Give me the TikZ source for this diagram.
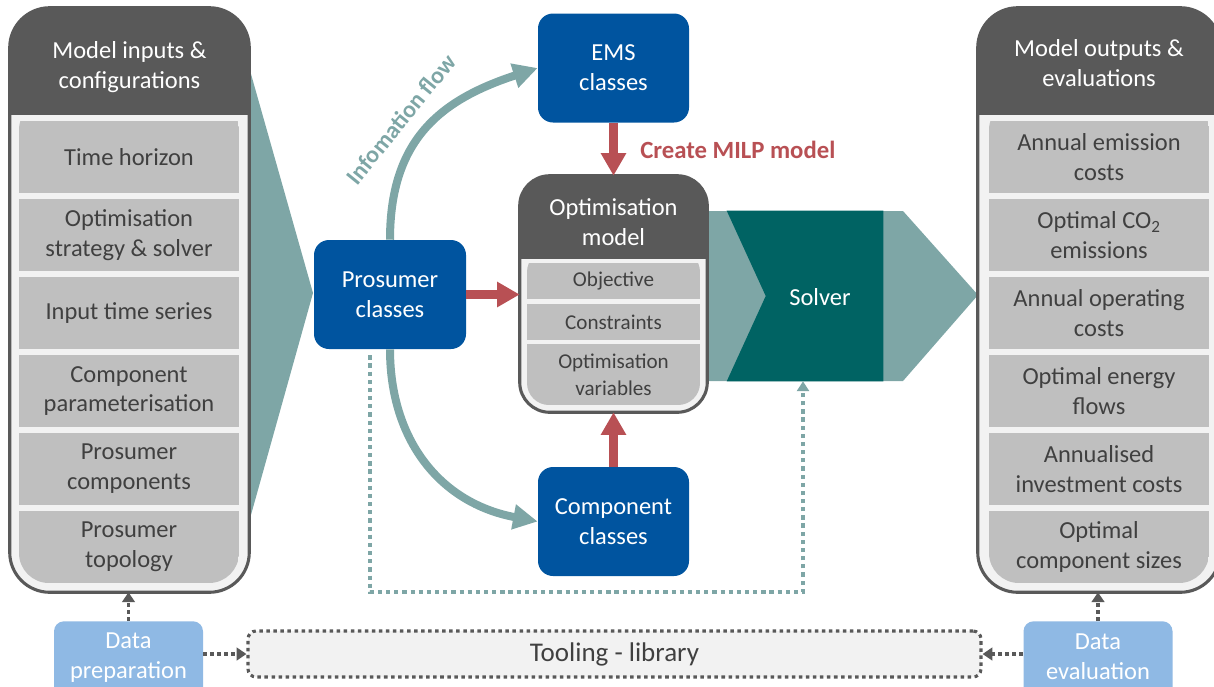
\documentclass[tikz,border=0pt]{standalone}
\usepackage{fontspec}
\setmainfont{Carlito}
\usetikzlibrary{arrows.meta,calc}
\newlength\uu \setlength\uu{0.025cm}
\definecolor{dkgray}{HTML}{595959}
\definecolor{panelbg}{HTML}{F2F2F2}
\definecolor{boxgray}{HTML}{BFBFBF}
\definecolor{txtgray}{HTML}{404040}
\definecolor{clsblue}{HTML}{00549F}
\definecolor{teall}{HTML}{7EA6A6}
\definecolor{teald}{HTML}{006363}
\definecolor{arrred}{HTML}{B85054}
\definecolor{datablue}{HTML}{8FB9E4}
\begin{document}
\begin{tikzpicture}[x=0.025cm,y=-0.025cm,
  mainfs/.style={font=\fontsize{17.4}{21.3}\selectfont},
  ibox/.style={fill=boxgray, text=txtgray, minimum width=220\uu, minimum height=72\uu, inner sep=0pt, align=center, mainfs},
  sbox/.style={fill=boxgray, text=txtgray, minimum width=173\uu, inner sep=0pt, align=center, font=\fontsize{15}{19.2}\selectfont},
  hdr/.style={text=white, align=center, inner sep=0pt, mainfs},
  panel/.style={fill=panelbg, inner sep=0pt},
  bluebox/.style={fill=clsblue, rounded corners=15\uu, minimum width=151\uu, minimum height=109\uu, text=white, align=center, inner sep=0pt, mainfs},
  redarrow/.style={draw=arrred, line width=6.4pt, -{Triangle[width=17pt,length=16pt]}},
  tealarrow/.style={draw=teall, line width=5.7pt, -{Triangle[width=17pt,length=17.5pt]}},
  tealdots/.style={draw=teall, line width=3pt, dash pattern=on 3pt off 2.8pt, -{Triangle[width=8.5pt,length=7pt]}},
  graydots/.style={draw=dkgray, line width=2.8pt, dash pattern=on 2.8pt off 2.2pt, -{Triangle[width=9pt,length=7pt]}},
  databox/.style={fill=datablue, rounded corners=10\uu, minimum width=149\uu, minimum height=100\uu, inner sep=0pt, anchor=north},
  border/.style={draw=dkgray, line width=2.2pt},
]
\useasboundingbox (0,0) rectangle (1214,686);

% teal background shapes
\fill[teall] (249,67) -- (313,293) -- (249,522) -- cycle;
\fill[teall] (690,211) -- (903,211) -- (978,295) -- (903,381) -- (690,381) -- cycle;
\node[minimum width=156\uu, minimum height=170\uu, inner sep=0pt] (solver) at (805,296) {};
\fill[teald] (solver.north west) -- (solver.north east) -- (solver.south east) -- (solver.south west) -- ($(solver.west)+(39,0)$) -- cycle;
\node[hdr] (solvertxt) at (820,297) {Solver};

% left panel
\node[panel, rounded corners=40\uu, minimum width=239\uu, minimum height=584\uu] (inp) at (129.5,300) {};
\begin{scope}
  \clip[rounded corners=40\uu] (inp.north west) rectangle (inp.south east);
  \fill[dkgray] (inp.north west) rectangle (249,115);
\end{scope}
\node[hdr] (inph) at (129.5,67) {Model inputs \&\\configurations};
\begin{scope}
  \clip[rounded corners=30\uu] (19,100) rectangle (239,583);
  \node[ibox] (i1) at (129,157) {Time horizon};
  \node[ibox] (i2) at (129,235) {Optimisation\\strategy \& solver};
  \node[ibox] (i3) at (129,313) {Input time series};
  \node[ibox] (i4) at (129,391) {Component\\parameterisation};
  \node[ibox] (i5) at (129,469) {Prosumer\\components};
  \node[ibox] (i6) at (129,547) {Prosumer\\topology};
\end{scope}
\draw[border, rounded corners=40\uu] (inp.north west) rectangle (inp.south east);

% right panel
\node[panel, rounded corners=40\uu, minimum width=242\uu, minimum height=584\uu] (outp) at (1099,300) {};
\begin{scope}
  \clip[rounded corners=40\uu] (outp.north west) rectangle (outp.south east);
  \fill[dkgray] (outp.north west) rectangle (1220,115);
\end{scope}
\node[hdr] (outph) at (1099,63) {Model outputs \&\\evaluations};
\begin{scope}
  \clip[rounded corners=30\uu] (989,100) rectangle (1209,583);
  \node[ibox] (r1) at (1099,157) {Annual emission\\costs};
  \node[ibox] (r2) at (1099,235) {Optimal CO\textsubscript{2}\\emissions};
  \node[ibox] (r3) at (1099,313) {Annual operating\\costs};
  \node[ibox] (r4) at (1099,391) {Optimal energy\\flows};
  \node[ibox] (r5) at (1099,469) {Annualised\\investment costs};
  \node[ibox] (r6) at (1099,547) {Optimal\\component sizes};
\end{scope}
\draw[border, rounded corners=40\uu] (outp.north west) rectangle (outp.south east);

% optimisation model
\node[panel, rounded corners=30\uu, minimum width=187\uu, minimum height=236\uu] (opt) at (613.5,294) {};
\begin{scope}
  \clip[rounded corners=30\uu] (opt.north west) rectangle (opt.south east);
  \fill[dkgray] (opt.north west) rectangle (707,259);
\end{scope}
\node[hdr] (opth) at (613.5,222) {Optimisation\\model};
\begin{scope}
  \clip[rounded corners=22\uu] (527,250) rectangle (700,405);
  \node[sbox, minimum height=36\uu] (o1) at (613.5,281) {\raisebox{-3\uu}{Objective}};
  \node[sbox, minimum height=36\uu] (o2) at (613.5,322) {Constraints};
  \node[sbox, minimum height=61\uu] (o3) at (613.5,374.5) {Optimisation\\variables};
\end{scope}
\draw[border, rounded corners=30\uu] (opt.north west) rectangle (opt.south east);

% class boxes
\node[bluebox, minimum width=152\uu] (pc) at (390,294.5) {Prosumer\\classes};
\node[bluebox] (ems) at (613.5,68) {EMS\\classes};
\node[bluebox] (comp) at (613.5,521.5) {Component\\classes};

% information flow arcs
\draw[tealarrow] (pc.north) .. controls (390,140) and (440,100) .. (ems.west);
\draw[tealarrow] (pc.south) .. controls (390,440) and (440,503) .. (comp.west);
\node[font=\bfseries\fontsize{17}{20}\selectfont, text=teall, rotate=51] (info) at (401,119) {Infomation flow};

% red arrows
\draw[redarrow] (ems.south) -- (opt.north);
\draw[redarrow] (pc.east) -- (pc.east -| opt.west);
\draw[redarrow] (comp.north) -- (opt.south);
\node[font=\bfseries\fontsize{17.6}{20}\selectfont, text=arrred, anchor=west, inner sep=0pt] (milp) at (640,150) {Create MILP model};

% teal dotted connector
\coordinate (dl) at (370,592);
\coordinate (dr) at (803,592);
\draw[tealdots] ($(pc.south -| dl)+(0,6)$) -- (dl) -- (dr) -- (dr |- solver.south);

% bottom row
\node[panel, draw=dkgray, line width=2.2pt, dash pattern=on 2.5pt off 2.5pt, rounded corners=8\uu, minimum width=733\uu, minimum height=46\uu, text=txtgray, font=\fontsize{19.2}{23}\selectfont] (tool) at (614.5,654) {Tooling - library};
\node[databox] (dp) at (128.5,621) {};
\node[hdr] (dpt) at (128.5,658) {Data\\preparation};
\node[databox] (de) at (1098,621) {};
\node[hdr] (det) at (1098,657) {Data\\evaluation};

\draw[graydots] (dp.north) -- (dp.north |- inp.south);
\draw[graydots] (dp.east |- tool.west) -- (tool.west);
\draw[graydots] (de.west |- tool.east) -- (tool.east);
\draw[graydots] (de.north) -- (de.north |- outp.south);
\end{tikzpicture}
\end{document}
